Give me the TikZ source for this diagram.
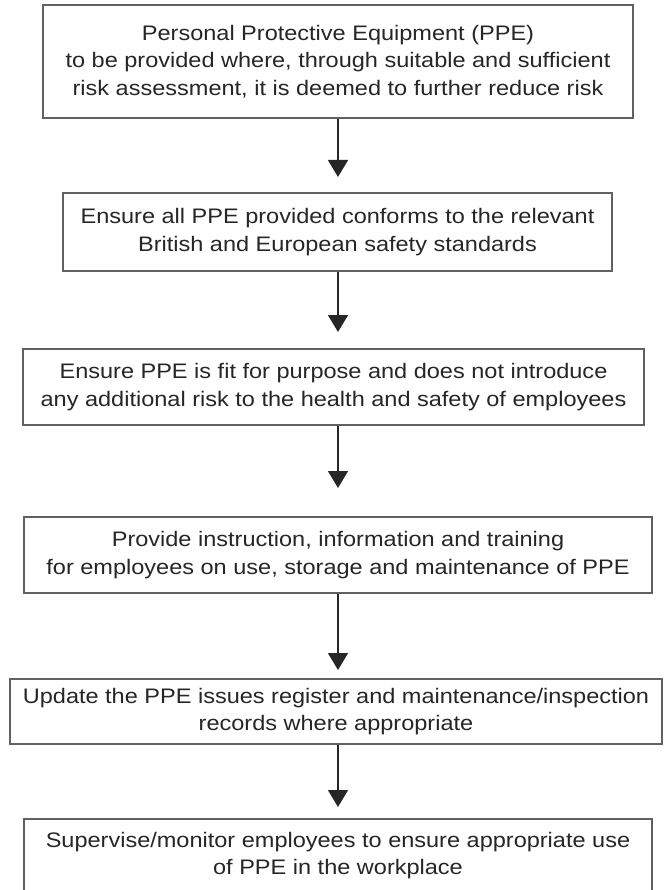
\documentclass[tikz,border=0pt]{standalone}
\usepackage{fontspec}
\setmainfont[FakeStretch=1.12]{Liberation Sans}
\usetikzlibrary{arrows.meta}
\begin{document}
\begin{tikzpicture}[x=1pt,y=-1pt,
  stepbox/.style={draw=black!62, line width=1.6pt, inner sep=0pt, align=center,
    text=black!85, font=\fontsize{21}{27.5}\selectfont},
  arr/.style={draw=black!85, line width=1.5pt, -{Triangle[length=17pt,width=20pt]}}]
\useasboundingbox (0,0) rectangle (663,890);
\fill[white] (0,0) rectangle (663,890);
\node[stepbox, minimum width=590pt, minimum height=113pt] (b1) at (338,61.5)
  {Personal Protective Equipment (PPE)\\to be provided where, through suitable and sufficient\\risk assessment, it is deemed to further reduce risk};
\node[stepbox, minimum width=549pt, minimum height=78pt] (b2) at (337.5,232)
  {Ensure all PPE provided conforms to the relevant\\British and European safety standards};
\node[stepbox, minimum width=621pt, minimum height=76pt] (b3) at (333.5,387)
  {Ensure PPE is fit for purpose and does not introduce\\any additional risk to the health and safety of employees};
\node[stepbox, minimum width=628pt, minimum height=76pt] (b4) at (338,555)
  {Provide instruction, information and training\\for employees on use, storage and maintenance of PPE};
\node[stepbox, minimum width=652pt, minimum height=65pt] (b5) at (336,711.5)
  {Update the PPE issues register and maintenance/inspection\\records where appropriate};
\node[stepbox, minimum width=628pt, minimum height=73pt] (b6) at (338,855.5)
  {Supervise/monitor employees to ensure appropriate use\\of PPE in the workplace};
\coordinate (t1) at (338,177);
\coordinate (t2) at (338,332);
\coordinate (t3) at (338,488);
\coordinate (t4) at (338,670);
\coordinate (t5) at (338,807);
\draw[arr] (t1 |- b1.south) -- (t1);
\draw[arr] (t2 |- b2.south) -- (t2);
\draw[arr] (t3 |- b3.south) -- (t3);
\draw[arr] (t4 |- b4.south) -- (t4);
\draw[arr] (t5 |- b5.south) -- (t5);
\end{tikzpicture}
\end{document}
